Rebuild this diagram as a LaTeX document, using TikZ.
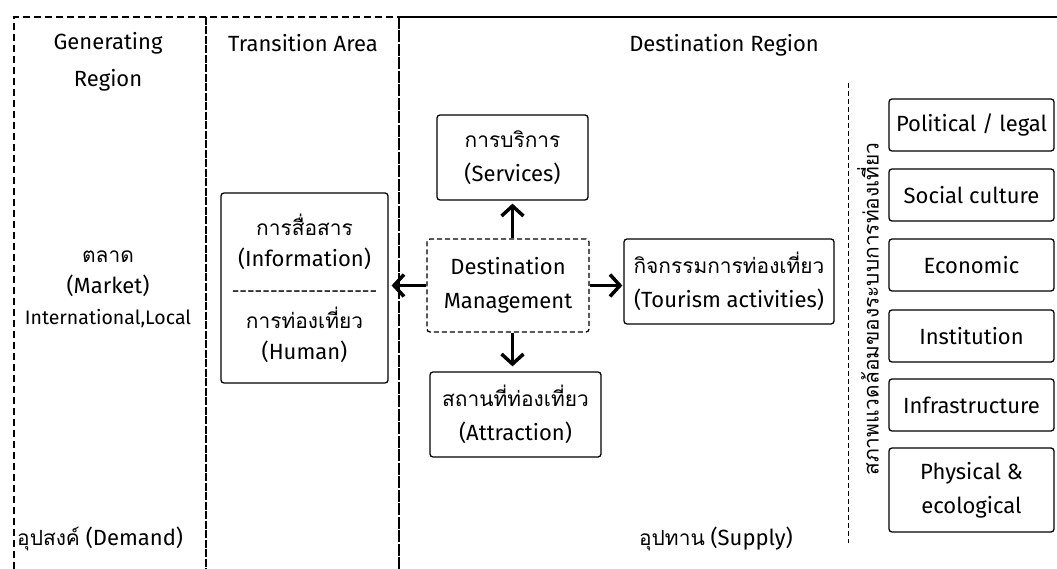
\documentclass[tikz,border=0pt]{standalone}
\usepackage{fontspec}
\setmainfont{Fira Sans}
\newfontfamily\thaifont{Loma}[Script=Thai, Scale=0.95]
\usetikzlibrary{arrows.meta}
\newcommand\hy{\mbox{-}}
\newcommand\dashrow{\hy\hy\hy\hy\hy\hy\hy\hy\hy\hy\hy\hy\hy\hy\hy\hy\hy\hy\hy}
\newcommand\thtxt[1]{{\thaifont #1}}
\begin{document}
\begin{tikzpicture}[x=1pt,y=-1pt,
  every node/.style={font=\fontsize{22}{34}\selectfont, inner sep=0pt},
  box/.style={draw, line width=1.3pt, rounded corners=3pt, align=center},
  dbox/.style={box, dash pattern=on 5pt off 3pt},
  rbox/.style={box, minimum width=165pt, minimum height=52pt},
  arr/.style={line width=3.5pt, -{Straight Barb[length=10pt,width=22pt,line width=3.5pt]}},
  lbl/.style={align=center},
]
\useasboundingbox (0,0) rectangle (1057,569);
\fill[white] (0,0) rectangle (1057,569);
% region boundaries
\draw[line width=1.5pt, dash pattern=on 7pt off 4pt] (14,569) -- (14,17) -- (399,17);
\draw[line width=1.5pt] (399,17) -- (1057,17);
\draw[line width=1.1pt, dash pattern=on 8pt off 1.5pt] (206,17) -- (206,569);
\draw[line width=1.8pt, dash pattern=on 12pt off 1.5pt] (399,17) -- (399,569);
\draw[line width=1pt, dash pattern=on 5pt off 3pt] (848,83) -- (848,543);
% titles
\node[lbl] (gen) at (108,62) {Generating\\[3pt]Region};
\node (trt) at (303,43) {Transition Area};
\node (dst) at (724,45) {Destination Region};
% market
\node[lbl, font=\fontsize{22}{31}\selectfont] (mkt) at (108,289) {\thtxt{ตลาด}\\(Market)\\{\fontsize{19.5}{20}\selectfont International,Local}};
% transition box
\node[box, minimum width=167pt, minimum height=190pt, font=\fontsize{22}{31}\selectfont] (trans) at (304.5,288)
  {\thtxt{การสื่อสาร}\\(Information)\\{\fontsize{19}{20}\selectfont\dashrow}\\\thtxt{การท่องเที่ยว}\\(Human)};
% destination boxes
\node[box, minimum width=151pt, minimum height=85pt] (serv) at (512.5,157.5) {\thtxt{การบริการ}\\(Services)};
\node[dbox, minimum width=162pt, minimum height=93pt] (dm) at (508,285.5) {Destination\\Management};
\node[box, minimum width=210pt, minimum height=85pt] (tour) at (729,281.5) {\thtxt{กิจกรรมการท่องเที่ยว}\\(Tourism activities)};
\node[box, minimum width=171pt, minimum height=85pt] (attr) at (515.5,414.5) {\thtxt{สถานที่ท่องเที่ยว}\\(Attraction)};
% environment
\node[rotate=90] (env) at (868,309) {\thtxt{สภาพแวดล้อมของระบบการท่องเที่ยว}};
\node[rbox] (pol) at (971.5,125) {Political / legal};
\node[rbox] (soc) at (971.5,195) {Social culture};
\node[rbox] (eco) at (971.5,265) {Economic};
\node[rbox] (ins) at (971.5,336) {Institution};
\node[rbox] (inf) at (971.5,405) {Infrastructure};
\node[rbox, minimum height=84pt] (phy) at (971.5,490) {Physical \&\\ecological};
% bottom
\node[anchor=west] (dem) at (17,539) {\thtxt{อุปสงค์} (Demand)};
\node (sup) at (716,539) {\thtxt{อุปทาน} (Supply)};
% arrows
\draw[arr, shorten >=3pt] (serv.south |- dm.north) -- (serv.south);
\draw[arr, shorten >=5pt] (serv.south |- dm.south) -- (serv.south |- attr.north);
\draw[arr, shorten >=3pt] (dm.west) -- (dm.west -| trans.east);
\draw[arr, shorten >=1pt] (dm.east) -- (dm.east -| tour.west);
\end{tikzpicture}
\end{document}
